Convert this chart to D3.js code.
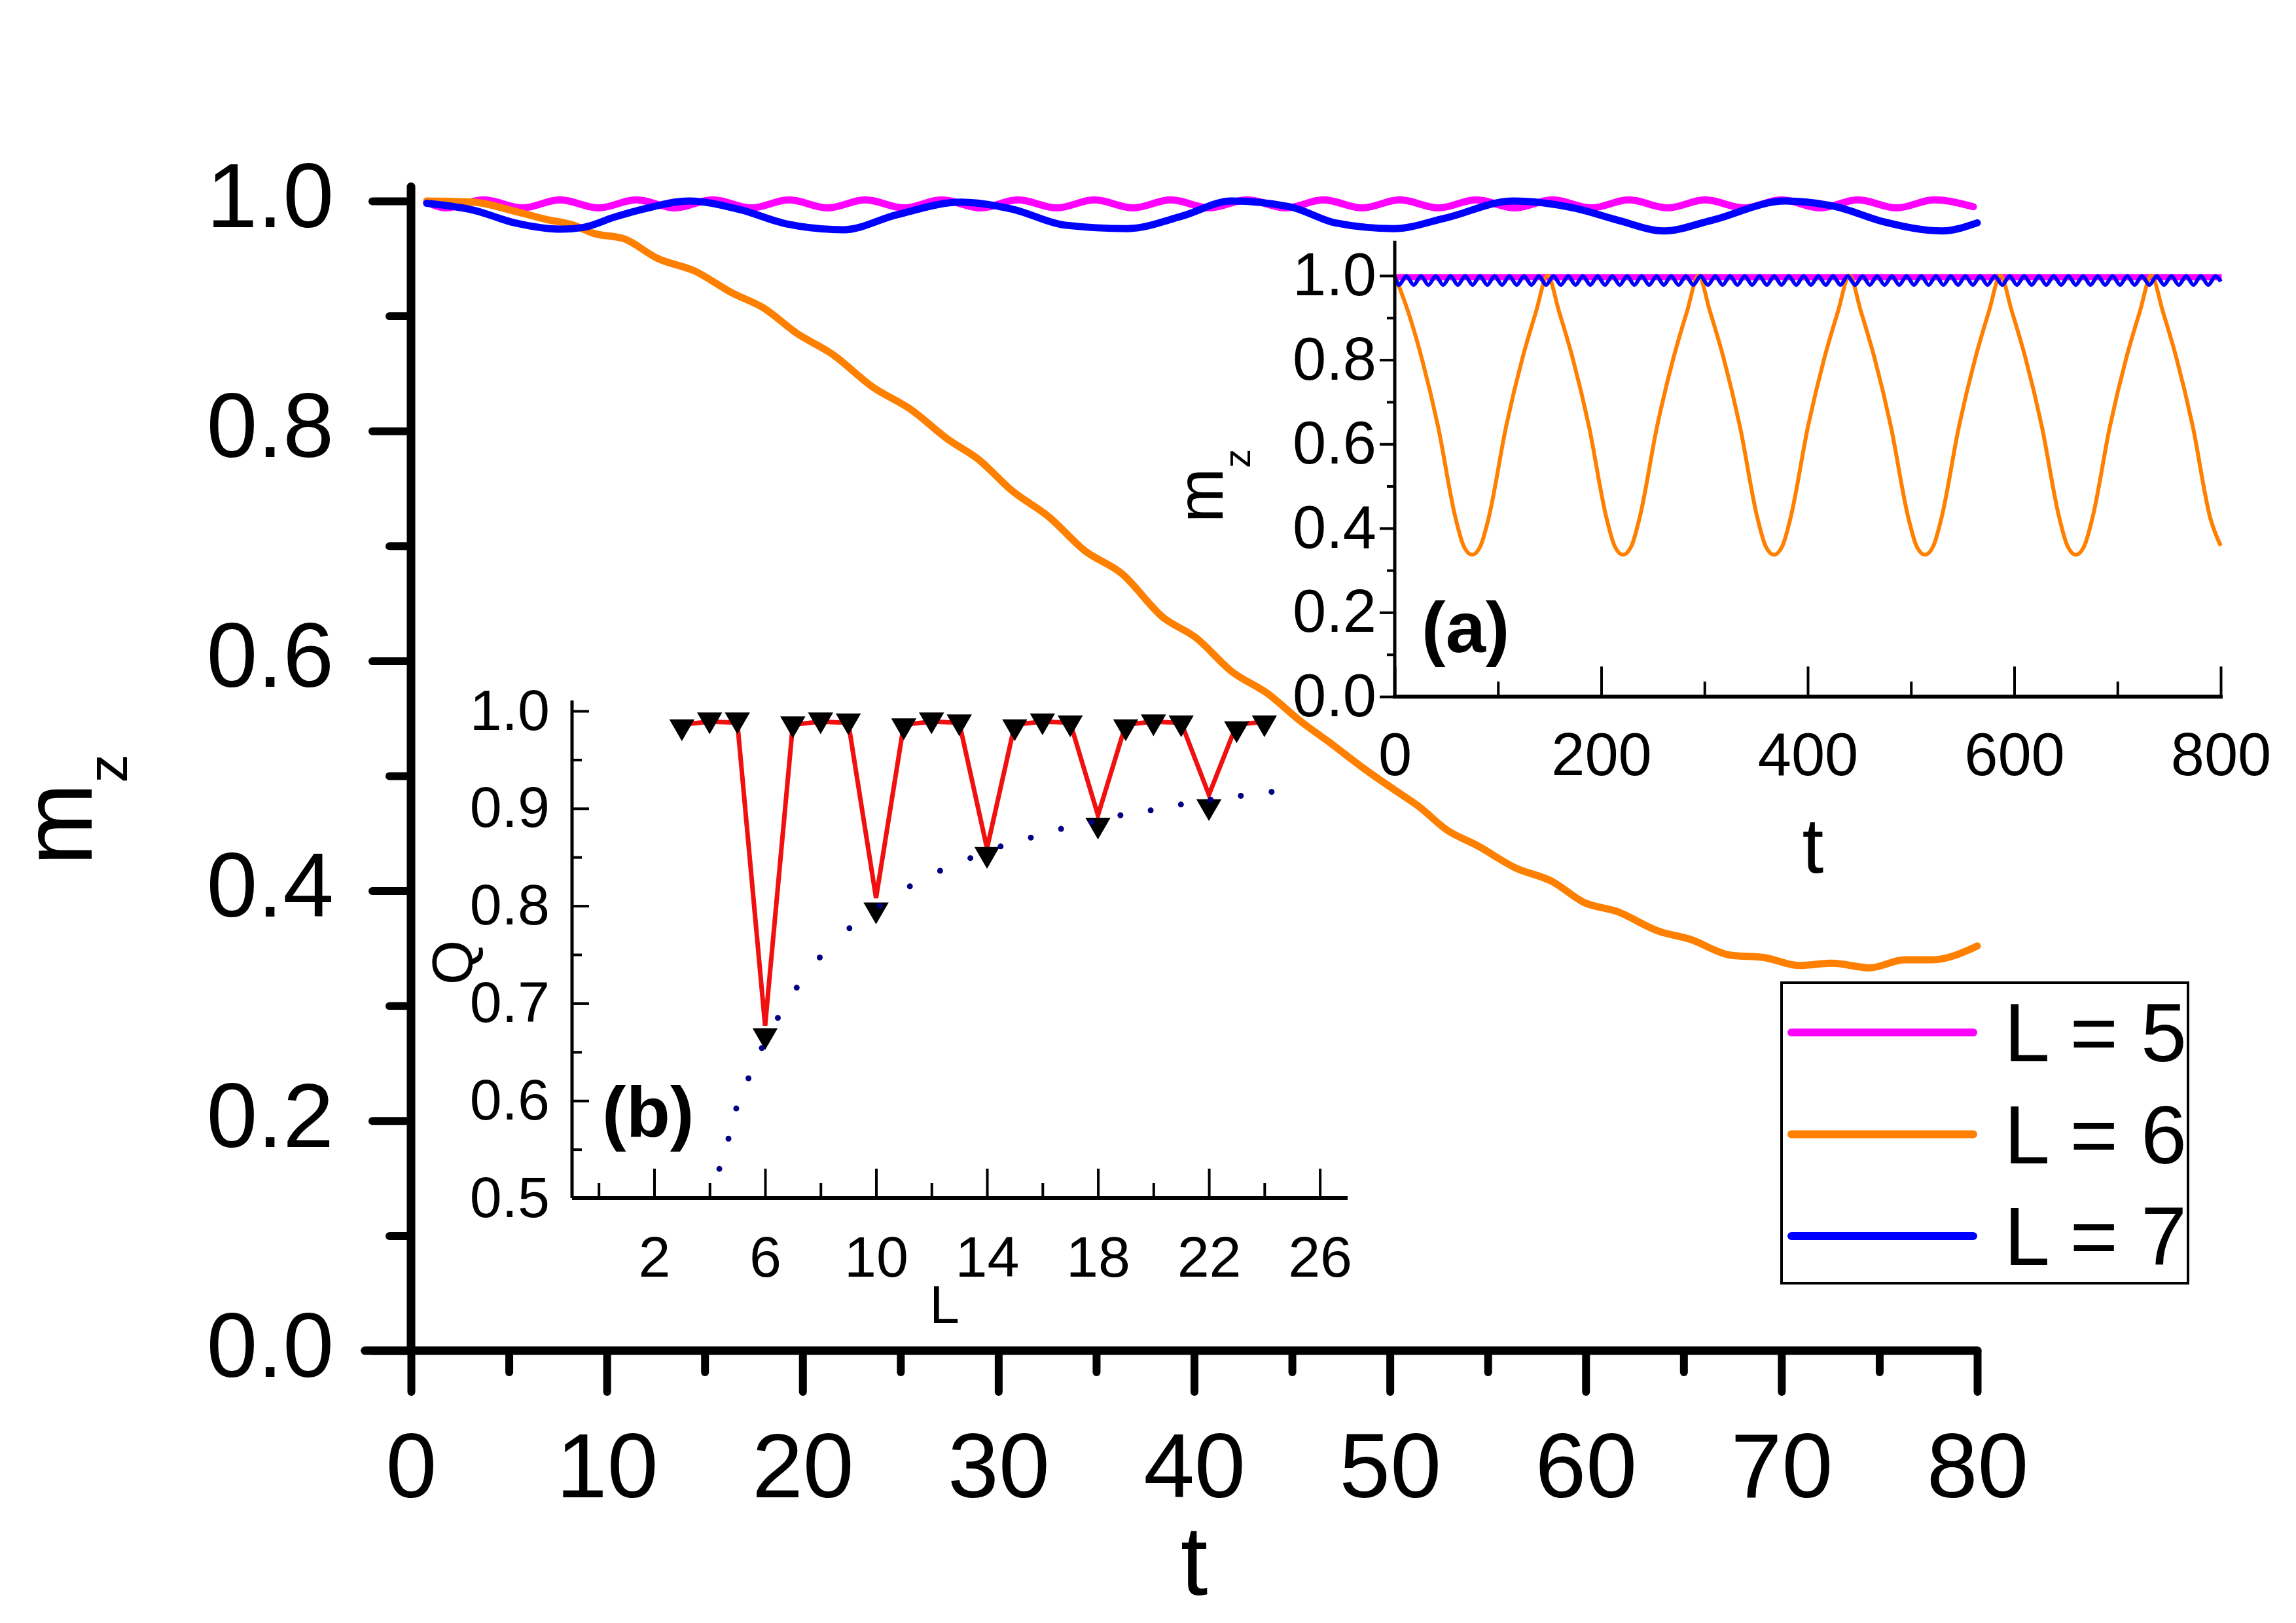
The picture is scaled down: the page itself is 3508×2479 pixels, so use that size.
<!DOCTYPE html>
<html lang="en">
<head>
  <meta charset="UTF-8">
  <title>m_z vs t</title>
  <script src="https://d3js.org/d3.v7.min.js"></script>
  <style>
    body { margin: 0; background: #fff; }
    text { font-family: "Liberation Sans", Arial, sans-serif; }
  </style>
</head>
<body>
  <svg width="3508" height="2479" id="chart"></svg>

  <script>
    // ---- main panel: m_z(t) for L = 5, 6, 7 ----
    const mainPink = [
      [0.8, 0.999], [1.8, 0.994], [3.7, 1.001], [5.7, 0.994], [7.6, 1.001], [9.6, 0.994], [11.5, 1.001],
      [13.5, 0.994], [15.4, 1.001], [17.4, 0.994], [19.3, 1.001], [21.3, 0.994], [23.2, 1.001], [25.2, 0.994],
      [27.1, 1.001], [29.1, 0.994], [31.0, 1.001], [33.0, 0.994], [34.9, 1.001], [36.9, 0.994], [38.8, 1.001],
      [40.8, 0.994], [42.7, 1.001], [44.7, 0.994], [46.6, 1.001], [48.6, 0.994], [50.5, 1.001], [52.5, 0.994],
      [54.4, 1.001], [56.4, 0.994], [58.3, 1.001], [60.3, 0.994], [62.2, 1.001], [64.2, 0.994], [66.1, 1.001],
      [68.1, 0.994], [70.0, 1.001], [72.0, 0.994], [73.9, 1.001], [75.9, 0.994], [77.8, 1.001], [79.8, 0.995]
    ];
    const mainOrange = [
      [0.8, 1.0], [3.2, 0.999], [5.1, 0.992], [6.9, 0.984], [8.3, 0.979], [9.3, 0.972], [10.9, 0.967],
      [12.6, 0.950], [14.5, 0.939], [16.4, 0.920], [18.0, 0.907], [19.7, 0.885], [21.5, 0.867], [23.6, 0.838],
      [25.5, 0.819], [27.4, 0.793], [29.0, 0.775], [30.7, 0.748], [32.6, 0.725], [34.4, 0.696], [36.3, 0.676],
      [38.4, 0.638], [40.1, 0.620], [41.9, 0.591], [43.8, 0.571], [45.4, 0.548], [47.0, 0.528], [48.7, 0.506],
      [50.3, 0.487], [51.5, 0.473], [52.9, 0.453], [54.5, 0.439], [56.4, 0.420], [58.3, 0.408], [59.9, 0.390],
      [61.6, 0.382], [63.7, 0.365], [65.3, 0.358], [67.4, 0.344], [69.1, 0.342], [70.9, 0.335], [72.6, 0.337],
      [74.5, 0.333], [76.3, 0.340], [77.7, 0.340], [80.0, 0.352]
    ];
    const mainBlue = [
      [0.8, 0.998], [3.2, 0.992], [5.3, 0.981], [7.7, 0.9755], [8.8, 0.977], [10.4, 0.986], [12.0, 0.9935],
      [14.2, 1.0], [16.8, 0.9925], [19.2, 0.980], [22.1, 0.975], [24.8, 0.988], [28.1, 0.999], [30.7, 0.993],
      [33.4, 0.979], [36.6, 0.976], [39.4, 0.987], [41.9, 1.0], [44.9, 0.995], [47.2, 0.981], [50.2, 0.976],
      [52.8, 0.985], [56.3, 1.0], [59.5, 0.9935], [61.7, 0.983], [64.0, 0.974], [66.4, 0.983], [70.2, 1.0],
      [72.8, 0.995], [75.2, 0.982], [78.2, 0.974], [80.0, 0.981]
    ];
    const mainXTicks = [0, 10, 20, 30, 40, 50, 60, 70, 80];
    const mainXMinor = [5, 15, 25, 35, 45, 55, 65, 75];
    const mainYTicks = [0, 0.2, 0.4, 0.6, 0.8, 1.0];
    const mainYMinor = [0.1, 0.3, 0.5, 0.7, 0.9];

    const legendLabels = ['L = 5', 'L = 6', 'L = 7'];
    const seriesColors = ['#ff00ff', '#ff8000', '#0000ff'];

    // ---- inset (a): long-time m_z(t) ----
    const insetOrange = [
      [0, 1.0], [12.9, 0.915], [25.9, 0.806], [41.9, 0.642], [58.9, 0.424], [66.9, 0.357], [74.9, 0.337],
      [82.9, 0.357], [90.9, 0.424], [107.9, 0.642], [123.9, 0.806], [136.9, 0.915], [148.0, 1.0],
      [159.1, 0.915], [172.1, 0.806], [188.1, 0.642], [205.1, 0.424], [213.1, 0.357], [221.1, 0.337],
      [229.1, 0.357], [237.1, 0.424], [254.1, 0.642], [270.1, 0.806], [283.1, 0.915], [294.2, 1.0],
      [305.3, 0.915], [318.3, 0.806], [334.3, 0.642], [351.3, 0.424], [359.3, 0.357], [367.3, 0.337],
      [375.3, 0.357], [383.3, 0.424], [400.3, 0.642], [416.3, 0.806], [429.3, 0.915], [440.4, 1.0],
      [451.5, 0.915], [464.5, 0.806], [480.5, 0.642], [497.5, 0.424], [505.5, 0.357], [513.5, 0.337],
      [521.5, 0.357], [529.5, 0.424], [546.5, 0.642], [562.5, 0.806], [575.5, 0.915], [586.6, 1.0],
      [597.7, 0.915], [610.7, 0.806], [626.7, 0.642], [643.7, 0.424], [651.7, 0.357], [659.7, 0.337],
      [667.7, 0.357], [675.7, 0.424], [692.7, 0.642], [708.7, 0.806], [721.7, 0.915], [732.8, 1.0],
      [743.9, 0.915], [756.9, 0.806], [772.9, 0.642], [789.9, 0.424], [800, 0.358]
    ];
    const insetBluePeakT = [
      0, 11.2, 25.5, 39.7, 54.0, 68.2, 82.5, 96.7, 111.0, 125.2, 139.5, 153.7, 168.0, 182.2, 196.5, 210.7,
      225.0, 239.2, 253.5, 267.7, 282.0, 296.2, 310.5, 324.7, 339.0, 353.2, 367.5, 381.7, 396.0, 410.2,
      424.5, 438.7, 453.0, 467.2, 481.5, 495.7, 510.0, 524.2, 538.5, 552.7, 567.0, 581.2, 595.5, 609.7,
      624.0, 638.2, 652.5, 666.7, 681.0, 695.2, 709.5, 723.7, 738.0, 752.2, 766.5, 780.7, 795.0
    ];
    const insetBlueTroughT = [
      4.1, 18.4, 32.6, 46.9, 61.1, 75.4, 89.6, 103.9, 118.1, 132.4, 146.6, 160.9, 175.1, 189.4, 203.6,
      217.9, 232.1, 246.4, 260.6, 274.9, 289.1, 303.4, 317.6, 331.9, 346.1, 360.4, 374.6, 388.9, 403.1,
      417.4, 431.6, 445.9, 460.1, 474.4, 488.6, 502.9, 517.1, 531.4, 545.6, 559.9, 574.1, 588.4, 602.6,
      616.9, 631.1, 645.4, 659.6, 673.9, 688.1, 702.4, 716.6, 730.9, 745.1, 759.4, 773.6, 787.9
    ];
    const insetBluePeak = 0.999;
    const insetBlueTrough = 0.978;
    const insetBlueEnd = [800, 0.986];
    // L = 5 oscillates too fast to resolve at this scale: envelope [t, low, high]
    const insetPinkBand = [[0, 0.991, 1.001], [800, 0.991, 1.001]];
    const insetXTicks = [0, 200, 400, 600, 800];
    const insetXMinor = [100, 300, 500, 700];
    const insetYTicks = [0, 0.2, 0.4, 0.6, 0.8, 1.0];
    const insetYMinor = [0.1, 0.3, 0.5, 0.7, 0.9];

    // ---- inset (b): Q vs L ----
    const qL = [3, 4, 5, 6, 7, 8, 9, 10, 11, 12, 13, 14, 15, 16, 17, 18, 19, 20, 21, 22, 23, 24];
    const qTriangles = [0.984, 0.991, 0.991, 0.667, 0.987, 0.991, 0.990, 0.796, 0.985, 0.991, 0.989,
      0.853, 0.984, 0.990, 0.988, 0.883, 0.984, 0.989, 0.988, 0.902, 0.982, 0.988];
    const qRedLine = [0.986, 0.989, 0.988, 0.677, 0.986, 0.989, 0.988, 0.808, 0.986, 0.989, 0.988,
      0.859, 0.986, 0.989, 0.988, 0.893, 0.986, 0.989, 0.988, 0.914, 0.986, 0.989];
    const qDotL = [4.35, 4.68, 4.96, 5.40, 5.88, 6.46, 7.14, 7.97, 9.04, 10.13, 11.22, 12.31, 13.40,
      14.49, 15.58, 16.67, 17.77, 18.81, 19.90, 20.99, 22.06, 23.15, 24.26];
    const qDotQ = [0.530, 0.561, 0.592, 0.623, 0.654, 0.685, 0.716, 0.747, 0.777, 0.800, 0.820, 0.836,
      0.849, 0.861, 0.870, 0.879, 0.886, 0.893, 0.898, 0.904, 0.909, 0.913, 0.917];
    const qXTicks = [2, 6, 10, 14, 18, 22, 26];
    const qXMinor = [0, 4, 8, 12, 16, 20, 24];
    const qYTicks = [0.5, 0.6, 0.7, 0.8, 0.9, 1.0];
    const qYMinor = [0.55, 0.65, 0.75, 0.85, 0.95];

    const svg = d3.select('#chart');
    svg.append('rect').attr('width', 3508).attr('height', 2479).attr('fill', '#fff');

    // helper: style an axis group
    function styleAxis(sel, fontSize, lineWidth, cap) {
      sel.select('.domain').remove();
      sel.attr('font-family', '"Liberation Sans", Arial, sans-serif').attr('font-size', fontSize);
      sel.selectAll('line').attr('stroke', '#000').attr('stroke-width', lineWidth).attr('stroke-linecap', cap);
      sel.selectAll('text').attr('fill', '#000');
    }

    // ================= main panel =================
    const x = d3.scaleLinear().domain([0, 80]).range([628, 3021]);
    const y = d3.scaleLinear().domain([0, 1]).range([2063, 307]);
    const main = svg.append('g');

    const lineMain = d3.line().x(d => x(d[0])).y(d => y(d[1])).curve(d3.curveMonotoneX);
    [mainPink, mainOrange, mainBlue].forEach((s, i) => {
      main.append('path').datum(s)
        .attr('d', lineMain)
        .attr('fill', 'none')
        .attr('stroke', seriesColors[i])
        .attr('stroke-width', 11)
        .attr('stroke-linejoin', 'round')
        .attr('stroke-linecap', 'round');
    });

    // axes
    main.append('g').attr('transform', `translate(0,${y(0)})`)
      .call(d3.axisBottom(x).tickValues(mainXMinor).tickSize(33).tickFormat(''))
      .call(s => styleAxis(s, 140, 12, 'round'));
    main.append('g').attr('transform', `translate(0,${y(0)})`)
      .call(d3.axisBottom(x).tickValues(mainXTicks).tickSize(63).tickPadding(62).tickFormat(d3.format('d')))
      .call(s => styleAxis(s, 140, 12, 'round'));
    main.append('g').attr('transform', `translate(${x(0)},0)`)
      .call(d3.axisLeft(y).tickValues(mainYMinor).tickSize(33).tickFormat(''))
      .call(s => styleAxis(s, 140, 12, 'round'));
    main.append('g').attr('transform', `translate(${x(0)},0)`)
      .call(d3.axisLeft(y).tickValues(mainYTicks).tickSize(59).tickPadding(59).tickFormat(d3.format('.1f')))
      .call(s => styleAxis(s, 140, 12, 'round'))
      .selectAll('text').attr('dy', '0.28em');

    main.append('line')
      .attr('x1', x(-2.35)).attr('x2', x(80)).attr('y1', y(0)).attr('y2', y(0))
      .attr('stroke', '#000').attr('stroke-width', 13).attr('stroke-linecap', 'round');
    main.append('line')
      .attr('x1', x(0)).attr('x2', x(0)).attr('y1', y(0)).attr('y2', y(1.0125))
      .attr('stroke', '#000').attr('stroke-width', 13).attr('stroke-linecap', 'round');

    main.append('text').text('t')
      .attr('x', x(40)).attr('y', 2436)
      .attr('text-anchor', 'middle').attr('font-size', 150);

    const mzMain = main.append('text')
      .attr('transform', 'translate(140,1237) rotate(-90)')
      .attr('text-anchor', 'middle').attr('font-size', 152);
    mzMain.append('tspan').text('m');
    mzMain.append('tspan').text('z').attr('font-size', 88).attr('dy', 54);

    // legend
    const leg = main.append('g');
    leg.append('rect')
      .attr('x', 2722).attr('y', 1501).attr('width', 621).attr('height', 459)
      .attr('fill', 'none').attr('stroke', '#000').attr('stroke-width', 4);
    legendLabels.forEach((lab, i) => {
      const ry = 1577 + i * 155.5;
      leg.append('line')
        .attr('x1', 2737).attr('x2', 3015).attr('y1', ry).attr('y2', ry)
        .attr('stroke', seriesColors[i]).attr('stroke-width', 12).attr('stroke-linecap', 'round');
      leg.append('text').text(lab)
        .attr('x', 3062).attr('y', ry + 44)
        .attr('font-size', 126);
    });

    // ================= inset (a) =================
    const ax = d3.scaleLinear().domain([0, 800]).range([2131, 3393]);
    const ay = d3.scaleLinear().domain([0, 1]).range([1064, 421]);
    const ga = svg.append('g');

    ga.append('path').datum(insetPinkBand)
      .attr('d', d3.area().x(d => ax(d[0])).y0(d => ay(d[1])).y1(d => ay(d[2])))
      .attr('fill', '#ff00ff').attr('stroke', '#ff00ff').attr('stroke-width', 3);

    ga.append('path').datum(insetOrange)
      .attr('d', d3.line().x(d => ax(d[0])).y(d => ay(d[1])).curve(d3.curveMonotoneX))
      .attr('fill', 'none').attr('stroke', '#ff8000').attr('stroke-width', 6);

    const insetBlue = insetBluePeakT.map(t => [t, insetBluePeak])
      .concat(insetBlueTroughT.map(t => [t, insetBlueTrough]))
      .concat([insetBlueEnd])
      .sort((a, b) => a[0] - b[0]);
    ga.append('path').datum(insetBlue)
      .attr('d', d3.line().x(d => ax(d[0])).y(d => ay(d[1])).curve(d3.curveMonotoneX))
      .attr('fill', 'none').attr('stroke', '#0000ff').attr('stroke-width', 6);

    ga.append('g').attr('transform', `translate(0,${ay(0)})`)
      .call(d3.axisBottom(ax).tickValues(insetXMinor).tickSize(-23).tickFormat(''))
      .call(s => styleAxis(s, 92, 4, 'butt'));
    ga.append('g').attr('transform', `translate(0,${ay(0)})`)
      .call(d3.axisBottom(ax).tickValues(insetXTicks).tickSize(-46).tickPadding(55).tickFormat(d3.format('d')))
      .call(s => styleAxis(s, 92, 4, 'butt'));
    ga.append('g').attr('transform', `translate(${ax(0)},0)`)
      .call(d3.axisLeft(ay).tickValues(insetYMinor).tickSize(12).tickFormat(''))
      .call(s => styleAxis(s, 92, 4, 'butt'));
    ga.append('g').attr('transform', `translate(${ax(0)},0)`)
      .call(d3.axisLeft(ay).tickValues(insetYTicks).tickSize(23).tickPadding(5).tickFormat(d3.format('.1f')))
      .call(s => styleAxis(s, 92, 4, 'butt'));

    ga.append('line')
      .attr('x1', ax(0)).attr('x2', ax(800)).attr('y1', ay(0)).attr('y2', ay(0))
      .attr('stroke', '#000').attr('stroke-width', 6).attr('stroke-linecap', 'square');
    ga.append('line')
      .attr('x1', ax(0)).attr('x2', ax(0)).attr('y1', ay(0)).attr('y2', ay(1.083))
      .attr('stroke', '#000').attr('stroke-width', 5);

    ga.append('text').text('(a)')
      .attr('x', 2172).attr('y', 996)
      .attr('font-size', 110).attr('font-weight', 'bold');
    ga.append('text').text('t')
      .attr('x', 2770).attr('y', 1333)
      .attr('text-anchor', 'middle').attr('font-size', 118);
    const mzA = ga.append('text')
      .attr('transform', 'translate(1868,742) rotate(-90)')
      .attr('text-anchor', 'middle').attr('font-size', 100);
    mzA.append('tspan').text('m');
    mzA.append('tspan').text('z').attr('font-size', 58).attr('dy', 42);

    // ================= inset (b) =================
    const bx = d3.scaleLinear().domain([0, 26]).range([914.7, 2016.6]);
    const by = d3.scaleLinear().domain([0.5, 1]).range([1830, 1086]);
    const gb = svg.append('g');

    gb.append('path').datum(qL.map((l, i) => [l, qRedLine[i]]))
      .attr('d', d3.line().x(d => bx(d[0])).y(d => by(d[1])))
      .attr('fill', 'none').attr('stroke', '#f01010').attr('stroke-width', 7);

    const tri = d3.symbol().type(d3.symbolTriangle).size(640);
    gb.selectAll('path.tri').data(qL.map((l, i) => [l, qTriangles[i]]))
      .join('path').attr('class', 'tri')
      .attr('d', tri)
      .attr('transform', d => `translate(${bx(d[0])},${by(d[1])}) rotate(180)`)
      .attr('fill', '#000');

    gb.selectAll('circle.dot').data(qDotL.map((l, i) => [l, qDotQ[i]]))
      .join('circle').attr('class', 'dot')
      .attr('cx', d => bx(d[0])).attr('cy', d => by(d[1]))
      .attr('r', 4.5).attr('fill', '#000080');

    const bAxisX = bx(-0.96);
    gb.append('g').attr('transform', `translate(0,${by(0.5)})`)
      .call(d3.axisBottom(bx).tickValues(qXMinor).tickSize(-23).tickFormat(''))
      .call(s => styleAxis(s, 88, 4, 'butt'));
    gb.append('g').attr('transform', `translate(0,${by(0.5)})`)
      .call(d3.axisBottom(bx).tickValues(qXTicks).tickSize(-45).tickPadding(58).tickFormat(d3.format('d')))
      .call(s => styleAxis(s, 88, 4, 'butt'));
    gb.append('g').attr('transform', `translate(${bAxisX},0)`)
      .call(d3.axisLeft(by).tickValues(qYMinor).tickSize(-15).tickFormat(''))
      .call(s => styleAxis(s, 88, 4, 'butt'));
    gb.append('g').attr('transform', `translate(${bAxisX},0)`)
      .call(d3.axisLeft(by).tickValues(qYTicks).tickSize(-26).tickPadding(34).tickFormat(d3.format('.1f')))
      .call(s => styleAxis(s, 88, 4, 'butt'));

    gb.append('line')
      .attr('x1', bAxisX).attr('x2', bx(27)).attr('y1', by(0.5)).attr('y2', by(0.5))
      .attr('stroke', '#000').attr('stroke-width', 6);
    gb.append('line')
      .attr('x1', bAxisX).attr('x2', bAxisX).attr('y1', by(0.5)).attr('y2', by(1.011))
      .attr('stroke', '#000').attr('stroke-width', 5);

    gb.append('text').text('(b)')
      .attr('x', 920).attr('y', 1736)
      .attr('font-size', 110).attr('font-weight', 'bold');
    gb.append('text').text('L')
      .attr('x', 1443).attr('y', 2021)
      .attr('text-anchor', 'middle').attr('font-size', 82);
    gb.append('text').text('Q')
      .attr('transform', 'translate(722,1470) rotate(-90)')
      .attr('text-anchor', 'middle').attr('font-size', 88);
  </script>
</body>
</html>
